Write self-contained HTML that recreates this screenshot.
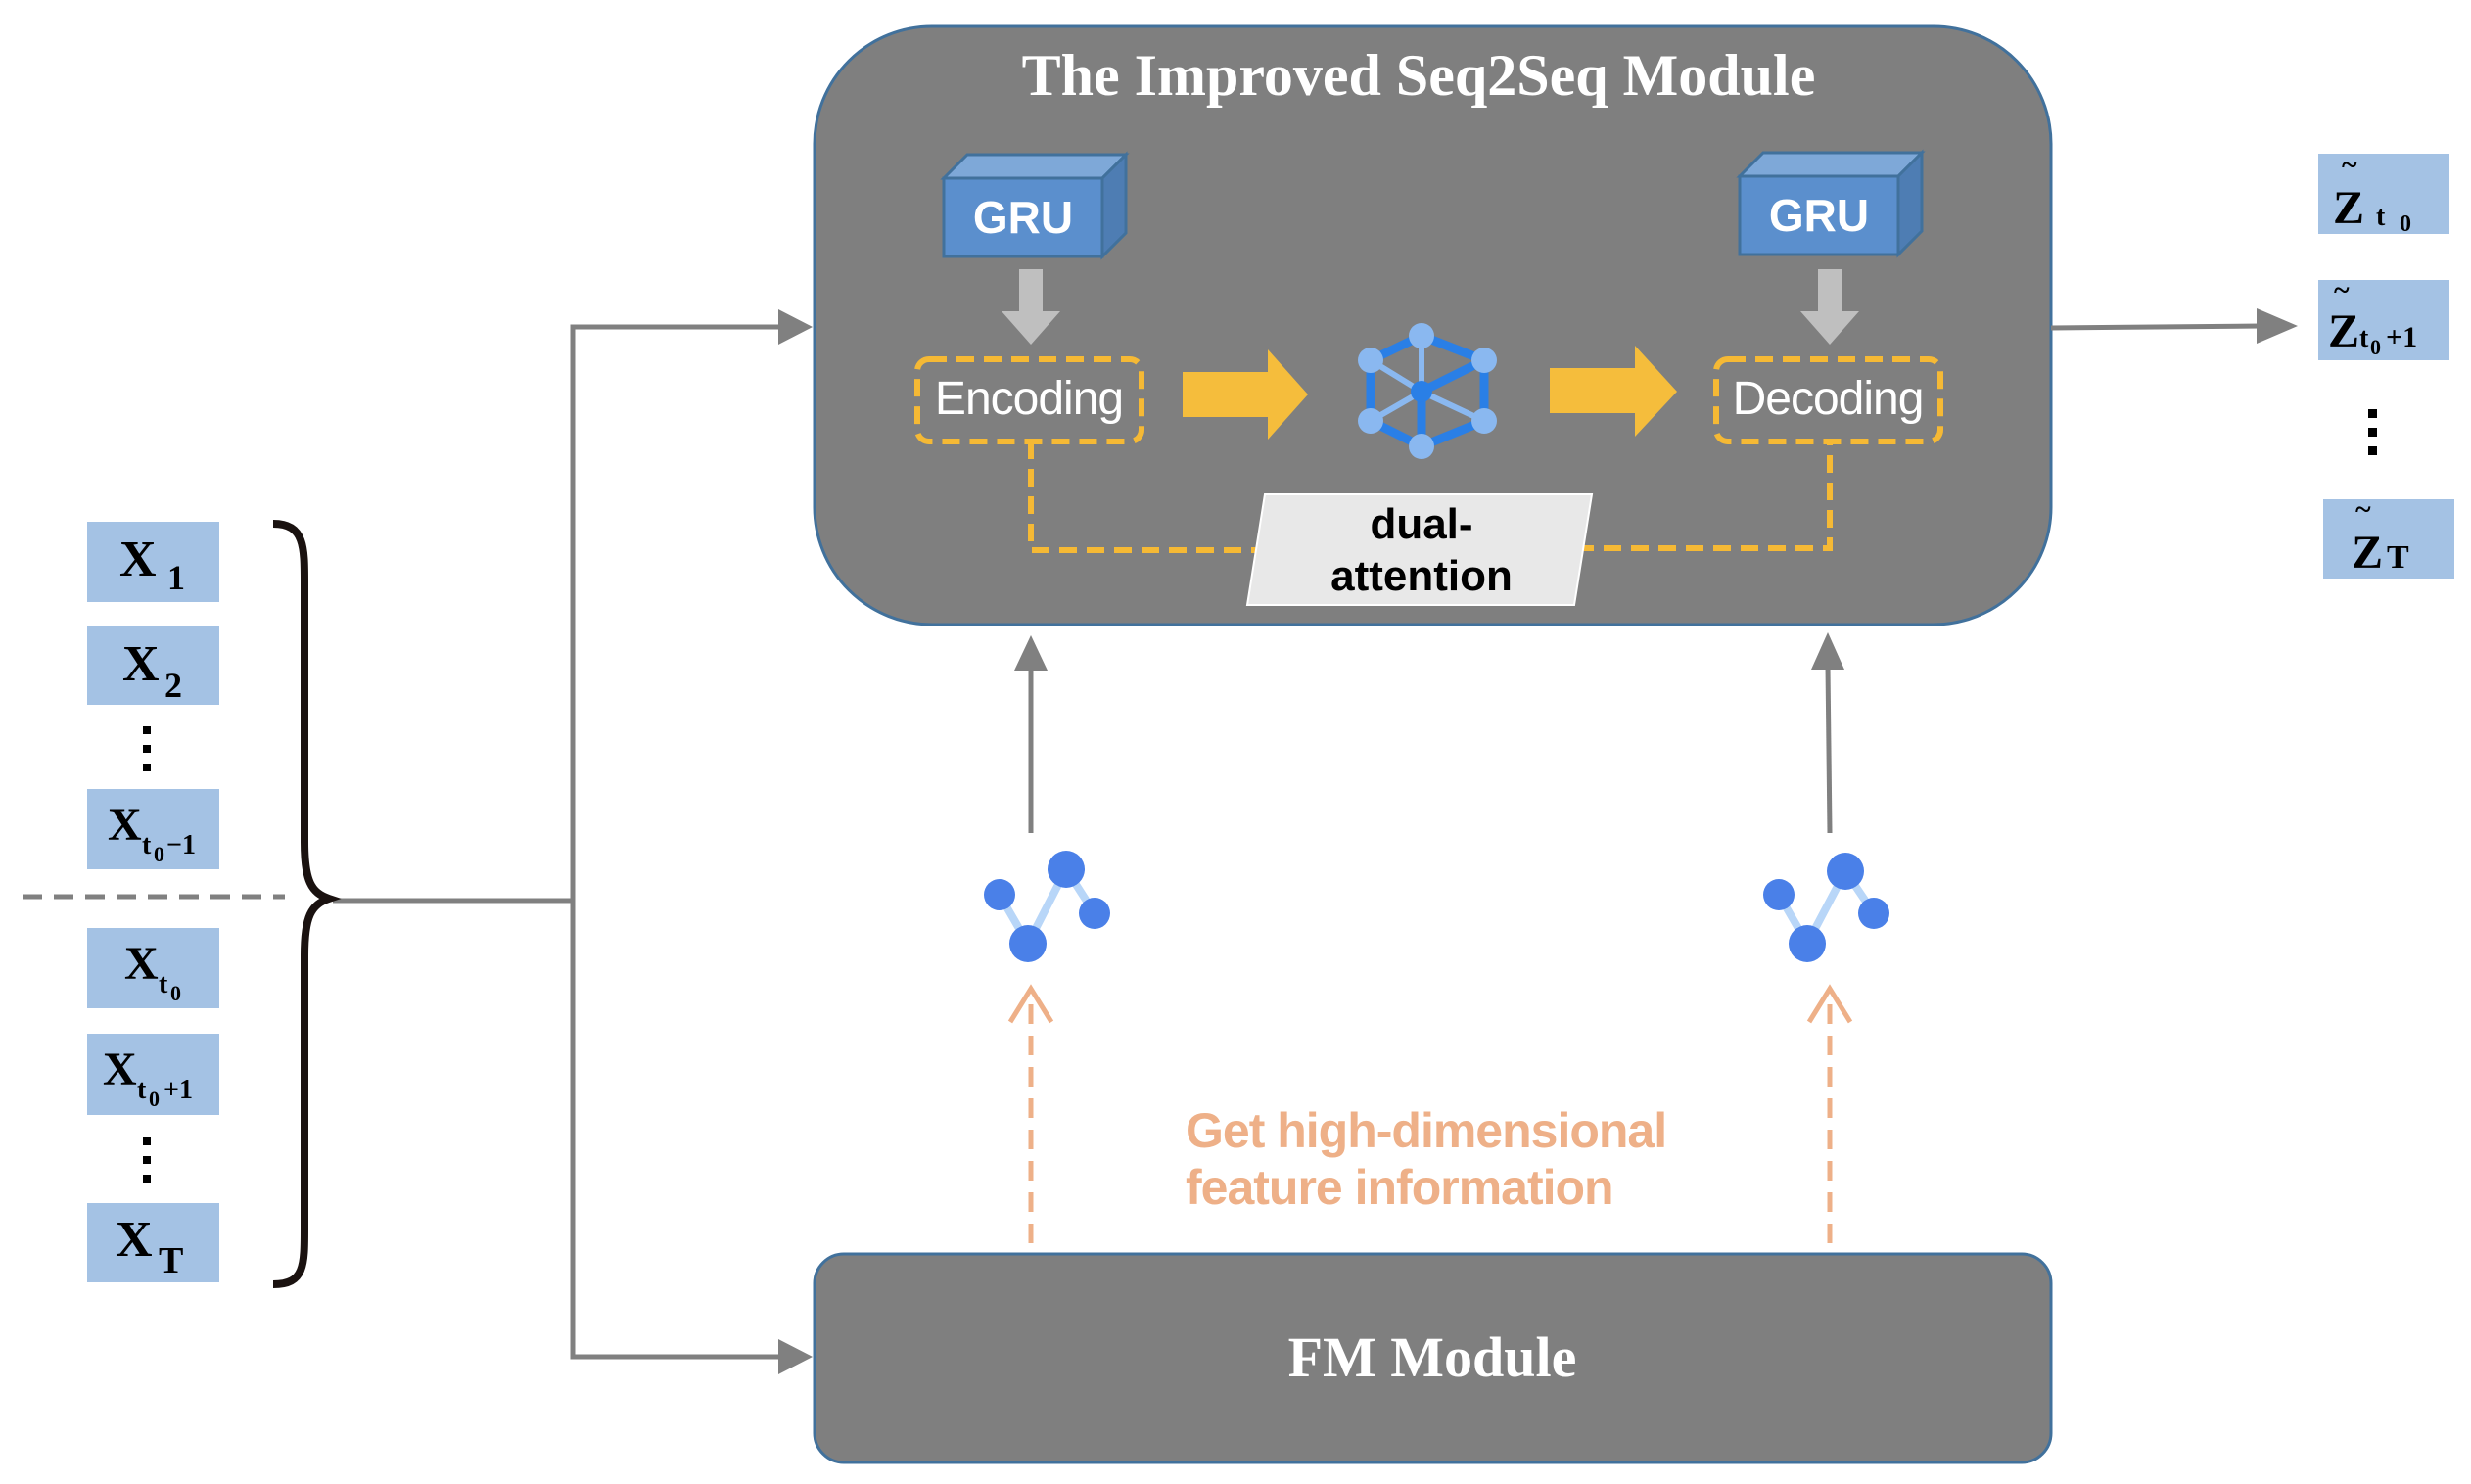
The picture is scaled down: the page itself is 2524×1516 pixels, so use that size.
<!DOCTYPE html>
<html><head><meta charset="utf-8"><style>
html,body{margin:0;padding:0;background:#fff}
svg{display:block}
</style></head><body>
<svg width="2524" height="1516" viewBox="0 0 2524 1516" xmlns="http://www.w3.org/2000/svg">
<!-- top module -->
<rect x="832" y="27" width="1263" height="611" rx="120" fill="#7f7f7f" stroke="#41719c" stroke-width="3"/>
<text x="1449" y="97" text-anchor="middle" font-family="Liberation Serif" font-weight="bold" font-size="60" fill="#fff">The Improved Seq2Seq Module</text>
<!-- GRU cubes -->
<g>
<polygon points="964,182 988,158 1150,158 1126,182" fill="#7ea8d8" stroke="#41719c" stroke-width="3"/>
<polygon points="1126,182 1150,158 1150,238 1126,262" fill="#4e7db3" stroke="#41719c" stroke-width="3"/>
<rect x="964" y="182" width="162" height="80" fill="#5b8fcd" stroke="#41719c" stroke-width="3"/>
<text x="1045" y="238" text-anchor="middle" font-family="Liberation Sans" font-weight="bold" font-size="46" fill="#fff">GRU</text>
</g>
<g>
<polygon points="1777,180 1801,156 1963,156 1939,180" fill="#7ea8d8" stroke="#41719c" stroke-width="3"/>
<polygon points="1939,180 1963,156 1963,236 1939,260" fill="#4e7db3" stroke="#41719c" stroke-width="3"/>
<rect x="1777" y="180" width="162" height="80" fill="#5b8fcd" stroke="#41719c" stroke-width="3"/>
<text x="1858" y="236" text-anchor="middle" font-family="Liberation Sans" font-weight="bold" font-size="46" fill="#fff">GRU</text>
</g>
<!-- gray down arrows -->
<polygon points="1041,275 1065,275 1065,318 1083,318 1053,352 1023,318 1041,318" fill="#bfbfbf"/>
<polygon points="1857,275 1881,275 1881,318 1899,318 1869,352 1839,318 1857,318" fill="#bfbfbf"/>
<!-- encoding/decoding -->
<rect x="937" y="367" width="229" height="84" rx="12" fill="none" stroke="#f5b935" stroke-width="6" stroke-dasharray="18,10"/>
<text x="1051" y="423" text-anchor="middle" font-family="Liberation Sans" font-size="48" fill="#fff" letter-spacing="-1">Encoding</text>
<rect x="1753" y="367" width="229" height="84" rx="12" fill="none" stroke="#f5b935" stroke-width="6" stroke-dasharray="18,10"/>
<text x="1867" y="423" text-anchor="middle" font-family="Liberation Sans" font-size="48" fill="#fff" letter-spacing="-1">Decoding</text>
<!-- yellow arrows -->
<polygon points="1208,380 1295,380 1295,357 1336,403 1295,449 1295,426 1208,426" fill="#f5bd3c"/>
<polygon points="1583,376 1670,376 1670,353 1713,400 1670,446 1670,422 1583,422" fill="#f5bd3c"/>
<!-- network icon -->
<g stroke="#2a7fe6" stroke-width="9">
<line x1="1452" y1="343" x2="1400" y2="368"/><line x1="1452" y1="343" x2="1516" y2="368"/>
<line x1="1400" y1="368" x2="1400" y2="430"/><line x1="1516" y1="368" x2="1516" y2="430"/>
<line x1="1400" y1="430" x2="1452" y2="456"/><line x1="1516" y1="430" x2="1452" y2="456"/>
<line x1="1452" y1="400" x2="1452" y2="456"/><line x1="1452" y1="400" x2="1516" y2="368"/>
</g>
<g stroke="#8ab8f0" stroke-width="6"><line x1="1452" y1="343" x2="1452" y2="400"/><line x1="1400" y1="430" x2="1452" y2="400"/><line x1="1400" y1="368" x2="1452" y2="400"/><line x1="1516" y1="430" x2="1452" y2="400"/></g>
<g fill="#8ab8f0"><circle cx="1452" cy="343" r="13"/><circle cx="1400" cy="368" r="13"/><circle cx="1516" cy="368" r="13"/><circle cx="1400" cy="430" r="13"/><circle cx="1516" cy="430" r="13"/><circle cx="1452" cy="456" r="13"/></g>
<circle cx="1452" cy="400" r="11" fill="#2a7fe6"/>
<!-- dashed attention path -->
<polyline points="1053,451 1053,562 1300,562" fill="none" stroke="#f5b935" stroke-width="6" stroke-dasharray="18,10"/>
<polyline points="1610,560 1869,560 1869,451" fill="none" stroke="#f5b935" stroke-width="6" stroke-dasharray="18,10"/>
<polygon points="1292,505 1626,505 1608,618 1274,618" fill="#e8e8e8" stroke="#fff" stroke-width="2"/>
<text x="1452" y="550" text-anchor="middle" font-family="Liberation Sans" font-weight="bold" font-size="44" fill="#000">dual-</text>
<text x="1452" y="603" text-anchor="middle" font-family="Liberation Sans" font-weight="bold" font-size="44" fill="#000">attention</text>
<!-- output arrow -->
<line x1="2095" y1="335" x2="2310" y2="333" stroke="#808080" stroke-width="5"/>
<polygon points="2305,315 2347,333 2305,351" fill="#808080"/>
<!-- Z boxes -->
<g font-family="Liberation Serif" font-weight="bold" fill="#000">
<rect x="2368" y="157" width="134" height="82" fill="#a4c2e4"/>
<text x="2392" y="178" font-size="30">~</text>
<text x="2383" y="228" font-size="48">Z</text><text x="2427" y="230" font-size="28">t</text><text x="2451" y="236" font-size="24">0</text>
<rect x="2368" y="286" width="134" height="82" fill="#a4c2e4"/>
<text x="2384" y="306" font-size="30">~</text>
<text x="2378" y="354" font-size="48">Z</text><text x="2410" y="354" font-size="28">t</text><text x="2421" y="362" font-size="22">0</text><text x="2437" y="354" font-size="30">+1</text>
<rect x="2419" y="418" width="9" height="9"/><rect x="2419" y="437" width="9" height="9"/><rect x="2419" y="456" width="9" height="9"/>
<rect x="2373" y="510" width="134" height="81" fill="#a4c2e4"/>
<text x="2406" y="530" font-size="30">~</text>
<text x="2402" y="580" font-size="48">Z</text><text x="2438" y="580" font-size="34">T</text>
</g>
<!-- up gray arrows -->
<line x1="1053" y1="851" x2="1053" y2="680" stroke="#808080" stroke-width="5"/>
<polygon points="1036,685 1053,649 1070,685" fill="#808080"/>
<line x1="1869" y1="851" x2="1867" y2="680" stroke="#808080" stroke-width="5"/>
<polygon points="1850,684 1867,646 1884,684" fill="#808080"/>
<!-- small graph icons -->
<g>
<polyline points="1021,914 1050,964 1089,888 1118,933" fill="none" stroke="#b8d6f8" stroke-width="8"/>
<circle cx="1021" cy="914" r="16" fill="#4a80e8"/><circle cx="1089" cy="888" r="19" fill="#4a80e8"/><circle cx="1118" cy="933" r="16" fill="#4a80e8"/><circle cx="1050" cy="964" r="19" fill="#4a80e8"/>
</g>
<g>
<polyline points="1817,914 1846,964 1885,890 1914,933" fill="none" stroke="#b8d6f8" stroke-width="8"/>
<circle cx="1817" cy="914" r="16" fill="#4a80e8"/><circle cx="1885" cy="890" r="19" fill="#4a80e8"/><circle cx="1914" cy="933" r="16" fill="#4a80e8"/><circle cx="1846" cy="964" r="19" fill="#4a80e8"/>
</g>
<!-- orange dashed arrows -->
<g stroke="#eeb088" stroke-width="5" fill="none">
<line x1="1053" y1="1270" x2="1053" y2="1022" stroke-dasharray="20,12"/>
<polyline points="1032,1044 1053,1010 1074,1044"/>
<line x1="1869" y1="1270" x2="1869" y2="1022" stroke-dasharray="20,12"/>
<polyline points="1848,1044 1869,1010 1890,1044"/>
</g>
<text x="1211" y="1172" font-family="Liberation Sans" font-weight="bold" font-size="50" fill="#eeb088" letter-spacing="-1">Get high-dimensional</text>
<text x="1211" y="1230" font-family="Liberation Sans" font-weight="bold" font-size="50" fill="#eeb088" letter-spacing="-1">feature information</text>
<!-- FM module -->
<rect x="832" y="1281" width="1263" height="213" rx="30" fill="#7f7f7f" stroke="#41719c" stroke-width="3"/>
<text x="1463" y="1406" text-anchor="middle" font-family="Liberation Serif" font-weight="bold" font-size="58" fill="#fff">FM Module</text>
<!-- left connectors -->
<g stroke="#808080" stroke-width="5" fill="none">
<line x1="340" y1="920" x2="585" y2="920"/>
<polyline points="795,334 585,334 585,1386 795,1386"/>
</g>
<polygon points="795,316 830,334 795,352" fill="#808080"/>
<polygon points="795,1368 830,1386 795,1404" fill="#808080"/>
<line x1="23" y1="916" x2="291" y2="916" stroke="#808080" stroke-width="5" stroke-dasharray="20,12"/>
<!-- brace -->
<path d="M279,535 C312,535 311,560 311,600 L311,860 C311,900 318,912 336,918 C318,924 311,936 311,976 L311,1250 C311,1292 312,1312 279,1312" fill="none" stroke="#1a1210" stroke-width="8"/>
<!-- x boxes -->
<g font-family="Liberation Serif" font-weight="bold" fill="#000">
<rect x="89" y="533" width="135" height="82" fill="#a4c2e4"/>
<text x="122" y="588" font-size="52">X</text><text x="171" y="602" font-size="36">1</text>
<rect x="89" y="640" width="135" height="80" fill="#a4c2e4"/>
<text x="125" y="695" font-size="52">X</text><text x="168" y="712" font-size="36">2</text>
<rect x="146" y="742" width="8" height="8"/><rect x="146" y="761" width="8" height="8"/><rect x="146" y="780" width="8" height="8"/>
<rect x="89" y="806" width="135" height="82" fill="#a4c2e4"/>
<text x="110" y="858" font-size="48">X</text><text x="145" y="872" font-size="28">t</text><text x="157" y="880" font-size="22">0</text><text x="170" y="872" font-size="28">−1</text>
<rect x="89" y="948" width="135" height="82" fill="#a4c2e4"/>
<text x="127" y="1000" font-size="48">X</text><text x="162" y="1014" font-size="28">t</text><text x="174" y="1022" font-size="22">0</text>
<rect x="89" y="1056" width="135" height="83" fill="#a4c2e4"/>
<text x="105" y="1108" font-size="48">X</text><text x="140" y="1122" font-size="28">t</text><text x="152" y="1130" font-size="22">0</text><text x="167" y="1122" font-size="28">+1</text>
<rect x="146" y="1162" width="8" height="8"/><rect x="146" y="1181" width="8" height="8"/><rect x="146" y="1200" width="8" height="8"/>
<rect x="89" y="1229" width="135" height="81" fill="#a4c2e4"/>
<text x="118" y="1283" font-size="52">X</text><text x="162" y="1300" font-size="38">T</text>
</g>
</svg>
</body></html>
